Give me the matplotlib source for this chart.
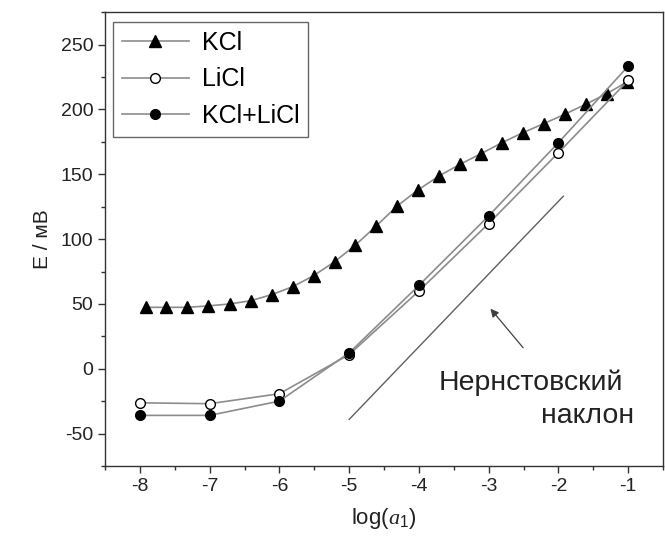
import numpy as np
import matplotlib.pyplot as plt
from matplotlib.ticker import MultipleLocator

plt.rcParams['font.family'] = ['Liberation Sans', 'DejaVu Sans']
plt.rcParams['mathtext.fontset'] = 'custom'
plt.rcParams['mathtext.it'] = 'Liberation Serif:italic'
plt.rcParams['mathtext.rm'] = 'Liberation Sans'
plt.rcParams['axes.unicode_minus'] = False

# KCl: E vs log(a1)
kcl_x = [-7.92, -7.62, -7.32, -7.02, -6.71, -6.41, -6.11, -5.81, -5.51, -5.21,
         -4.91, -4.61, -4.31, -4.01, -3.71, -3.41, -3.11, -2.81, -2.51, -2.21,
         -1.91, -1.61, -1.31, -1.02]
kcl_y = [47.4, 47.4, 47.4, 48.5, 50.0, 52.5, 57.2, 63.3, 71.8, 82.5,
         95.4, 110.2, 125.6, 138.0, 148.7, 157.7, 165.8, 174.3, 182.0, 189.0,
         196.2, 203.9, 212.0, 221.0]

# LiCl and KCl+LiCl
mix_x = [-8, -7, -6, -5, -4, -3, -2, -1]
licl_y = [-26.2, -26.9, -19.2, 11.0, 60.0, 112.0, 166.6, 222.3]
both_y = [-35.9, -35.9, -24.9, 12.3, 64.3, 117.9, 174.3, 233.3]

# Nernstian slope guide line
nernst_x = [-5.0, -1.93]
nernst_y = [-39.0, 133.0]

fig = plt.figure(figsize=(6.65, 5.49), dpi=100)
ax = fig.add_axes([0.158, 0.151, 0.839, 0.827])

line_c = '#8c8c8c'
ax.plot(kcl_x, kcl_y, '-', color=line_c, lw=1.2, marker='^', ms=9,
        mfc='black', mec='black', label='KCl')
ax.plot(mix_x, licl_y, '-', color=line_c, lw=1.2, marker='o', ms=7,
        mfc='white', mec='black', mew=1.0, label='LiCl')
ax.plot(mix_x, both_y, '-', color=line_c, lw=1.2, marker='o', ms=7,
        mfc='black', mec='black', label='KCl+LiCl')

ax.plot(nernst_x, nernst_y, '-', color='#606060', lw=1.0)
ax.annotate('', xy=(-3.0, 48), xytext=(-2.48, 14.6),
            arrowprops=dict(arrowstyle='-|>', color='#404040', lw=0.9,
                            mutation_scale=12))
ax.text(-2.4, -10.5, 'Нернстовский', fontsize=20.5, ha='center', va='center',
        color='#222222')
ax.text(-0.91, -36, 'наклон', fontsize=20.5, ha='right', va='center',
        color='#222222')

ax.set_xlim(-8.5, -0.5)
ax.set_ylim(-75, 275)
ax.xaxis.set_major_locator(MultipleLocator(1))
ax.xaxis.set_minor_locator(MultipleLocator(0.5))
ax.yaxis.set_minor_locator(MultipleLocator(25))
ax.set_yticks(np.arange(-50, 251, 50))
ax.tick_params(which='major', direction='out', length=5, width=1,
               labelsize=14, color='#333333', labelcolor='#222222')
ax.tick_params(which='minor', direction='out', length=3, width=1,
               color='#333333')
for s in ax.spines.values():
    s.set_color('#333333')
    s.set_linewidth(1.0)

ax.set_xlabel(r'log($a_1$)', fontsize=16, color='#222222', labelpad=8)
ax.set_ylabel('E / мВ', fontsize=15, color='#222222', labelpad=6)

leg = ax.legend(loc='upper left', fontsize=18, handlelength=2.7,
                borderpad=0.35, labelspacing=0.5, handletextpad=0.5,
                borderaxespad=0, fancybox=False, edgecolor='#666666',
                framealpha=1, bbox_to_anchor=(0.014, 0.978))
leg.get_frame().set_linewidth(1.0)

fig.savefig('out.png', dpi=100)
